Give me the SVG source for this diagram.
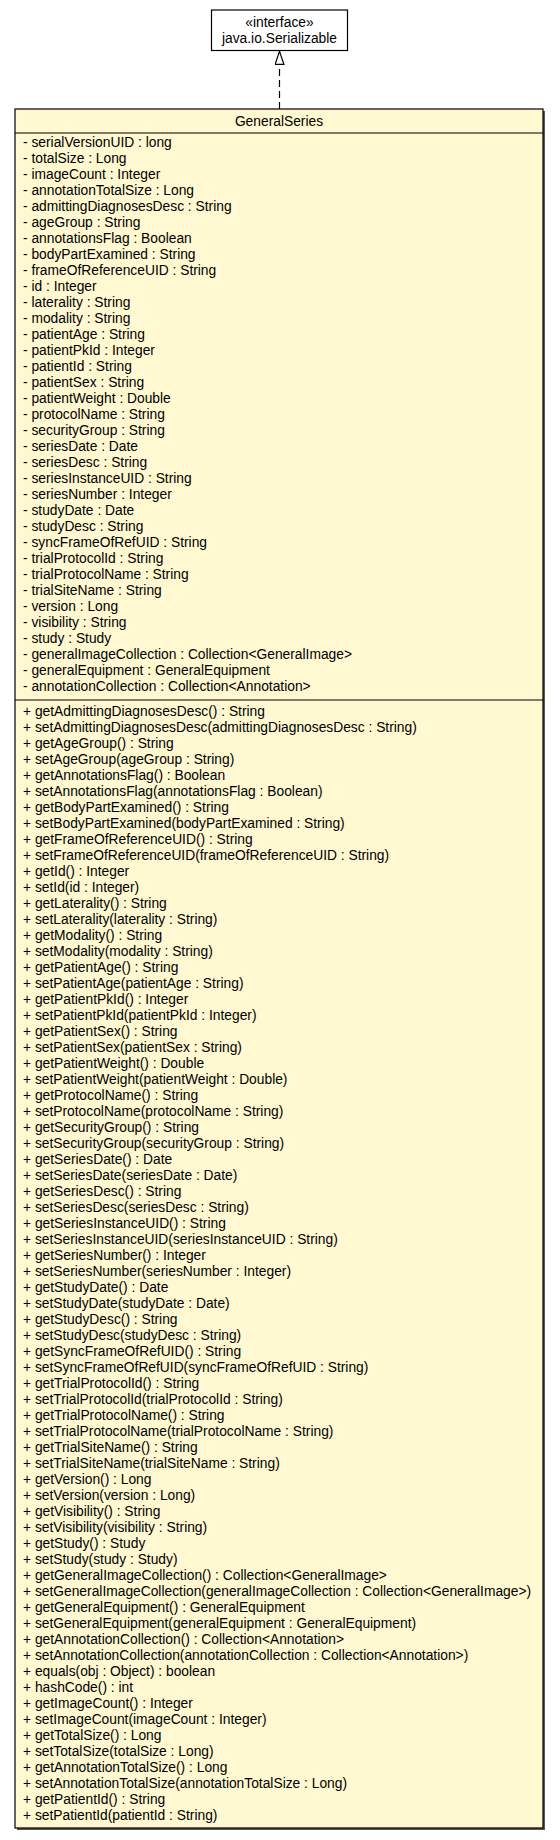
<svg xmlns="http://www.w3.org/2000/svg" width="560" height="1840" viewBox="0 0 560 1840">
<style>
text{font-family:"Liberation Sans",Arial,Helvetica,sans-serif;font-size:13.8px;fill:#000}
.c{text-anchor:middle}
.box{fill:#FFF8D0;stroke:#000;stroke-width:1.2}
.ibox{fill:#fff;stroke:#000;stroke-width:1.2}
.sh{fill:#5a5a4c}
.sep{stroke:#000;stroke-width:1.2}
.dep{fill:none;stroke:#000;stroke-width:1.2;stroke-dasharray:7,4}
</style>
<defs>
<marker id="real" viewBox="0 0 14 10" refX="14" refY="5" markerWidth="14" markerHeight="10" markerUnits="userSpaceOnUse" orient="auto">
<polygon points="0.6,0.6 13.6,5 0.6,9.4" fill="#fff" stroke="#000" stroke-width="1.2" stroke-dasharray="none"/>
</marker>
</defs>
<rect width="560" height="1840" fill="#fff"/>
<g id="connectors">
<path class="dep" d="M279.5,109 L279.5,51" marker-end="url(#real)"/>
</g>
<g id="Serializable">
<rect class="ibox" x="211.5" y="10" width="136" height="40.5"/>
<text class="c" x="279.5" y="27">«interface»</text>
<text class="c" x="279.5" y="43">java.io.Serializable</text>
</g>
<g id="GeneralSeries">
<rect class="sh" x="17" y="111" width="528" height="1719"/>
<rect class="box" x="15" y="109" width="528" height="1719"/>
<text class="c" x="279" y="126">GeneralSeries</text>
<line class="sep" x1="15" y1="133" x2="543" y2="133"/>
<line class="sep" x1="15" y1="700" x2="543" y2="700"/>
<g id="attributes">
<text x="23" y="147">- serialVersionUID : long</text>
<text x="23" y="163">- totalSize : Long</text>
<text x="23" y="179">- imageCount : Integer</text>
<text x="23" y="195">- annotationTotalSize : Long</text>
<text x="23" y="211">- admittingDiagnosesDesc : String</text>
<text x="23" y="227">- ageGroup : String</text>
<text x="23" y="243">- annotationsFlag : Boolean</text>
<text x="23" y="259">- bodyPartExamined : String</text>
<text x="23" y="275">- frameOfReferenceUID : String</text>
<text x="23" y="291">- id : Integer</text>
<text x="23" y="307">- laterality : String</text>
<text x="23" y="323">- modality : String</text>
<text x="23" y="339">- patientAge : String</text>
<text x="23" y="355">- patientPkId : Integer</text>
<text x="23" y="371">- patientId : String</text>
<text x="23" y="387">- patientSex : String</text>
<text x="23" y="403">- patientWeight : Double</text>
<text x="23" y="419">- protocolName : String</text>
<text x="23" y="435">- securityGroup : String</text>
<text x="23" y="451">- seriesDate : Date</text>
<text x="23" y="467">- seriesDesc : String</text>
<text x="23" y="483">- seriesInstanceUID : String</text>
<text x="23" y="499">- seriesNumber : Integer</text>
<text x="23" y="515">- studyDate : Date</text>
<text x="23" y="531">- studyDesc : String</text>
<text x="23" y="547">- syncFrameOfRefUID : String</text>
<text x="23" y="563">- trialProtocolId : String</text>
<text x="23" y="579">- trialProtocolName : String</text>
<text x="23" y="595">- trialSiteName : String</text>
<text x="23" y="611">- version : Long</text>
<text x="23" y="627">- visibility : String</text>
<text x="23" y="643">- study : Study</text>
<text x="23" y="659">- generalImageCollection : Collection&lt;GeneralImage&gt;</text>
<text x="23" y="675">- generalEquipment : GeneralEquipment</text>
<text x="23" y="691">- annotationCollection : Collection&lt;Annotation&gt;</text>
</g>
<g id="methods">
<text x="23" y="716">+ getAdmittingDiagnosesDesc() : String</text>
<text x="23" y="732">+ setAdmittingDiagnosesDesc(admittingDiagnosesDesc : String)</text>
<text x="23" y="748">+ getAgeGroup() : String</text>
<text x="23" y="764">+ setAgeGroup(ageGroup : String)</text>
<text x="23" y="780">+ getAnnotationsFlag() : Boolean</text>
<text x="23" y="796">+ setAnnotationsFlag(annotationsFlag : Boolean)</text>
<text x="23" y="812">+ getBodyPartExamined() : String</text>
<text x="23" y="828">+ setBodyPartExamined(bodyPartExamined : String)</text>
<text x="23" y="844">+ getFrameOfReferenceUID() : String</text>
<text x="23" y="860">+ setFrameOfReferenceUID(frameOfReferenceUID : String)</text>
<text x="23" y="876">+ getId() : Integer</text>
<text x="23" y="892">+ setId(id : Integer)</text>
<text x="23" y="908">+ getLaterality() : String</text>
<text x="23" y="924">+ setLaterality(laterality : String)</text>
<text x="23" y="940">+ getModality() : String</text>
<text x="23" y="956">+ setModality(modality : String)</text>
<text x="23" y="972">+ getPatientAge() : String</text>
<text x="23" y="988">+ setPatientAge(patientAge : String)</text>
<text x="23" y="1004">+ getPatientPkId() : Integer</text>
<text x="23" y="1020">+ setPatientPkId(patientPkId : Integer)</text>
<text x="23" y="1036">+ getPatientSex() : String</text>
<text x="23" y="1052">+ setPatientSex(patientSex : String)</text>
<text x="23" y="1068">+ getPatientWeight() : Double</text>
<text x="23" y="1084">+ setPatientWeight(patientWeight : Double)</text>
<text x="23" y="1100">+ getProtocolName() : String</text>
<text x="23" y="1116">+ setProtocolName(protocolName : String)</text>
<text x="23" y="1132">+ getSecurityGroup() : String</text>
<text x="23" y="1148">+ setSecurityGroup(securityGroup : String)</text>
<text x="23" y="1164">+ getSeriesDate() : Date</text>
<text x="23" y="1180">+ setSeriesDate(seriesDate : Date)</text>
<text x="23" y="1196">+ getSeriesDesc() : String</text>
<text x="23" y="1212">+ setSeriesDesc(seriesDesc : String)</text>
<text x="23" y="1228">+ getSeriesInstanceUID() : String</text>
<text x="23" y="1244">+ setSeriesInstanceUID(seriesInstanceUID : String)</text>
<text x="23" y="1260">+ getSeriesNumber() : Integer</text>
<text x="23" y="1276">+ setSeriesNumber(seriesNumber : Integer)</text>
<text x="23" y="1292">+ getStudyDate() : Date</text>
<text x="23" y="1308">+ setStudyDate(studyDate : Date)</text>
<text x="23" y="1324">+ getStudyDesc() : String</text>
<text x="23" y="1340">+ setStudyDesc(studyDesc : String)</text>
<text x="23" y="1356">+ getSyncFrameOfRefUID() : String</text>
<text x="23" y="1372">+ setSyncFrameOfRefUID(syncFrameOfRefUID : String)</text>
<text x="23" y="1388">+ getTrialProtocolId() : String</text>
<text x="23" y="1404">+ setTrialProtocolId(trialProtocolId : String)</text>
<text x="23" y="1420">+ getTrialProtocolName() : String</text>
<text x="23" y="1436">+ setTrialProtocolName(trialProtocolName : String)</text>
<text x="23" y="1452">+ getTrialSiteName() : String</text>
<text x="23" y="1468">+ setTrialSiteName(trialSiteName : String)</text>
<text x="23" y="1484">+ getVersion() : Long</text>
<text x="23" y="1500">+ setVersion(version : Long)</text>
<text x="23" y="1516">+ getVisibility() : String</text>
<text x="23" y="1532">+ setVisibility(visibility : String)</text>
<text x="23" y="1548">+ getStudy() : Study</text>
<text x="23" y="1564">+ setStudy(study : Study)</text>
<text x="23" y="1580">+ getGeneralImageCollection() : Collection&lt;GeneralImage&gt;</text>
<text x="23" y="1596">+ setGeneralImageCollection(generalImageCollection : Collection&lt;GeneralImage&gt;)</text>
<text x="23" y="1612">+ getGeneralEquipment() : GeneralEquipment</text>
<text x="23" y="1628">+ setGeneralEquipment(generalEquipment : GeneralEquipment)</text>
<text x="23" y="1644">+ getAnnotationCollection() : Collection&lt;Annotation&gt;</text>
<text x="23" y="1660">+ setAnnotationCollection(annotationCollection : Collection&lt;Annotation&gt;)</text>
<text x="23" y="1676">+ equals(obj : Object) : boolean</text>
<text x="23" y="1692">+ hashCode() : int</text>
<text x="23" y="1708">+ getImageCount() : Integer</text>
<text x="23" y="1724">+ setImageCount(imageCount : Integer)</text>
<text x="23" y="1740">+ getTotalSize() : Long</text>
<text x="23" y="1756">+ setTotalSize(totalSize : Long)</text>
<text x="23" y="1772">+ getAnnotationTotalSize() : Long</text>
<text x="23" y="1788">+ setAnnotationTotalSize(annotationTotalSize : Long)</text>
<text x="23" y="1804">+ getPatientId() : String</text>
<text x="23" y="1820">+ setPatientId(patientId : String)</text>
</g>
</g>
</svg>
